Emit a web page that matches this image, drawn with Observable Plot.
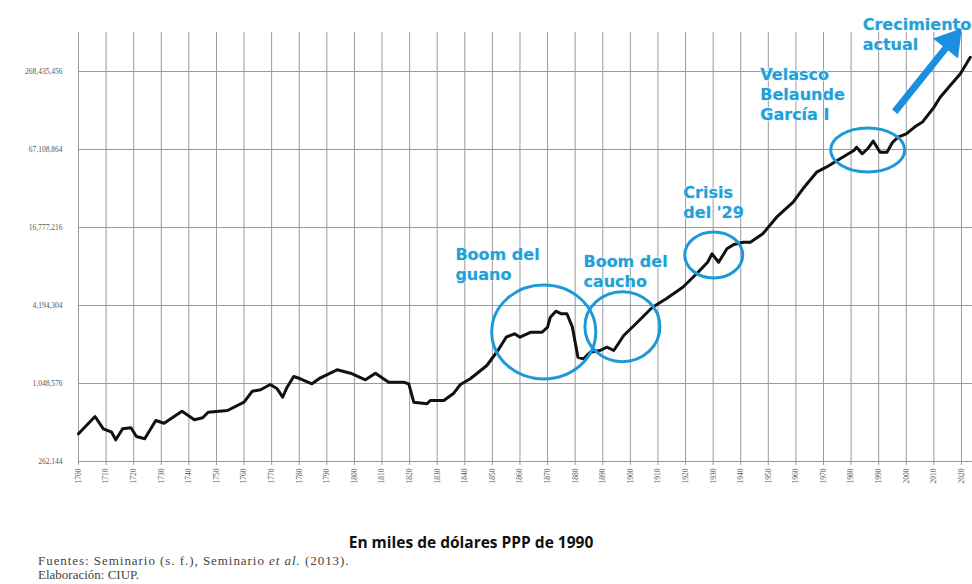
<!DOCTYPE html>
<html>
<head>
<meta charset="utf-8">
<script src="https://cdn.jsdelivr.net/npm/d3@7"></script>
<script src="https://cdn.jsdelivr.net/npm/@observablehq/plot@0.6"></script>
<style>
  body { margin: 0; background: #fff; width: 972px; }
  #caption { font-family: "Open Sans", sans-serif; font-weight: 700; font-size: 15.5px; line-height: 20px; color: #111; text-align: center; padding-right: 30px; }
  #source { font-family: "Liberation Serif", serif; font-size: 13px; line-height: 14px; color: #444; margin-left: 38px; margin-top: 2px; }
  #source .l1 { letter-spacing: 0.95px; }
</style>
</head>
<body>
<div id="chart"></div>
<div id="caption">En miles de dólares PPP de 1990</div>
<div id="source"><span class="l1">Fuentes: Seminario (s. f.), Seminario <i>et al.</i> (2013).</span><br>Elaboración: CIUP.</div>
<script>
// ---- data (thousands of 1990 PPP dollars) ----
const years = [1700,1706,1709,1712,1713.5,1716,1719,1721,1724,1728,1731,1737.5,1742,1745,1747,1754,1760,1763,1766,1769.5,1772,1774,1775.6,1778,1780.4,1784.6,1787.7,1793.7,1798.6,1804,1807.6,1812.4,1817.9,1819.7,1821.5,1826.3,1827.5,1832.4,1836,1838.4,1842,1848,1852,1855,1858,1860,1864,1868,1870,1871,1873,1875,1877,1879,1881,1883,1885.5,1889,1891.5,1894,1897.6,1902,1908,1913,1919,1924,1928,1929.6,1932,1935,1937.5,1941,1943.5,1948,1953,1959,1963,1967.5,1971,1976,1981,1982,1984,1986,1988,1990.5,1993,1995,1997,2000,2003,2006,2010,2012.3,2016,2019.6,2023.2];
const gdp = [428900,583500,468700,441200,385400,468700,477100,408700,392400,543100,517800,641100,550000,569900,629700,649100,752300,914800,937400,1029800,954200,822100,981900,1187200,1140600,1042800,1160600,1337700,1259400,1119900,1259400,1072900,1072900,1042800,752300,730900,775300,775300,882500,1029800,1140600,1444200,1885300,2388000,2536000,2388000,2608000,2608000,2854000,3407000,3791000,3620000,3620000,2854000,1673000,1626000,1830000,1885000,1999000,1885000,2462000,3031000,4069000,4723000,5806000,7369000,9055000,10514000,9055000,11490000,12400000,12920000,12920000,15000000,20150000,26310000,34330000,44840000,48990000,56910000,65910000,69900000,62200000,68000000,78000000,64000000,64000000,76000000,83600000,88700000,100000000,110000000,142000000,170000000,210000000,258000000,346000000];

const xTicks = d3.range(1700, 2021, 10);
const yTicks = [262144, 1048576, 4194304, 16777216, 67108864, 268435456];

// annotations (anchored in data space)
const noteText = ["Boom del\nguano", "Boom del\ncaucho", "Crisis\ndel '29", "Velasco\nBelaunde\nGarcía I", "Crecimiento\nactual"];
const noteYear = [1836.6, 1883, 1919.2, 1947.1, 1984.2];
const noteValue = [12180000, 10760000, 36700000, 298700000, 726300000];

const ringYear = [1868.8, 1897.3, 1930.4, 1986.2];
const ringValue = [2597000, 2854000, 10200000, 65900000];

const arrowYear = [1996, 2020.3];
const arrowValue = [130000000, 575000000];

// ---- build ----
const series = years.map((y, i) => ({year: y, gdp: gdp[i]}));
const notes = noteText.map((t, i) => ({text: t, year: noteYear[i], value: noteValue[i]}));
const ringSize = [[52, 47], [37.5, 35], [29, 23], [37, 22]]; // px radii (style)

const plot = Plot.plot({
  width: 972,
  height: 532,
  marginLeft: 78,
  marginRight: 0,
  marginTop: 32,
  marginBottom: 71,
  style: {background: "#fff", overflow: "visible"},
  x: {domain: [1700, 2024], axis: null},
  y: {type: "log", domain: [262144, 536870912], axis: null},
  marks: [
    Plot.gridX(xTicks, {stroke: "#9a9a9a", strokeOpacity: 1, strokeWidth: 1}),
    Plot.gridY(yTicks, {stroke: "#9a9a9a", strokeOpacity: 1, strokeWidth: 1}),
    Plot.axisX(xTicks, {tickRotate: -90, tickSize: 4, tickPadding: 3, stroke: "#9a9a9a", tickFormat: d => String(d), fontSize: 7.5, fontFamily: "Liberation Serif", fill: "#555", label: null}),
    Plot.text(yTicks, {y: d => d, text: d => d3.format(",")(d), frameAnchor: "left", textAnchor: "end", dx: -16, fontSize: 7.5, fontFamily: "Liberation Serif", fill: "#555"}),
    Plot.line(series, {x: "year", y: "gdp", stroke: "#111", strokeWidth: 3, strokeLinejoin: "round", strokeLinecap: "round"}),
    Plot.text(notes, {x: "year", y: "value", text: "text", textAnchor: "start", lineAnchor: "top", lineHeight: 1.25, fontSize: 16, fontWeight: 700, fontFamily: "DejaVu Sans", fill: "#22a0d6", stroke: "#e6f5fb", strokeWidth: 1.5, paintOrder: "stroke"})
  ]
});
document.getElementById("chart").appendChild(plot);

const sx = plot.scale("x"), sy = plot.scale("y");
const svg = d3.select(plot);
const g = svg.append("g");
ringYear.forEach((yr, i) => {
  g.append("ellipse")
    .attr("cx", sx.apply(yr)).attr("cy", sy.apply(ringValue[i]))
    .attr("rx", ringSize[i][0]).attr("ry", ringSize[i][1])
    .attr("fill", "none").attr("stroke", "#1d9ad6").attr("stroke-width", 3);
});
// arrow
const x0 = sx.apply(arrowYear[0]), y0 = sy.apply(arrowValue[0]);
const x1 = sx.apply(arrowYear[1]), y1 = sy.apply(arrowValue[1]);
const dx = x1 - x0, dy = y1 - y0, len = Math.hypot(dx, dy);
const ux = dx / len, uy = dy / len, nx = -uy, ny = ux;
const w = 3.5, L = 26, H = 16;
const bx = x1 - ux * L, by = y1 - uy * L;
const pts = [
  [x0 + nx * w, y0 + ny * w], [bx + nx * w, by + ny * w], [bx + nx * H, by + ny * H],
  [x1, y1],
  [bx - nx * H, by - ny * H], [bx - nx * w, by - ny * w], [x0 - nx * w, y0 - ny * w]
];
g.append("path").attr("d", "M" + pts.map(p => p.join(",")).join("L") + "Z").attr("fill", "#1a8fe0");
</script>
</body>
</html>
